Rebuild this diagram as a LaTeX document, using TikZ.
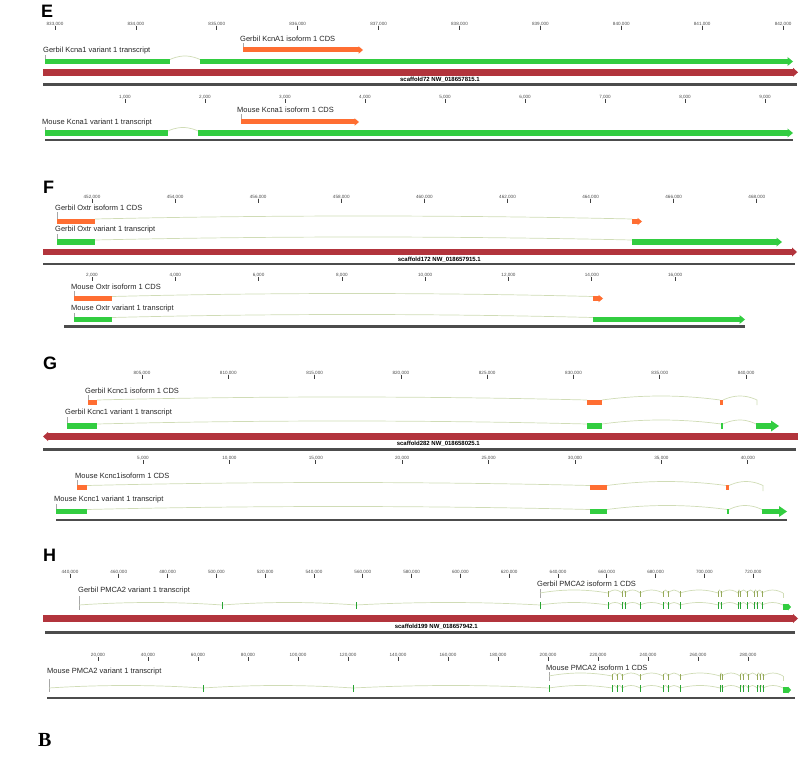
\documentclass[tikz,border=0pt]{standalone}
\usepackage{fontspec}
\setmainfont{Liberation Sans}
\newfontfamily\serifbold{Liberation Serif}
\usepackage{xcolor}
\usetikzlibrary{arrows.meta}
\definecolor{trgreen}{RGB}{50,205,64}
\definecolor{cdsorange}{RGB}{255,110,50}
\definecolor{scafred}{RGB}{178,52,60}
\definecolor{introngreen}{RGB}{208,220,182}
\definecolor{cdsmark}{RGB}{150,170,90}

\begin{document}
\begin{tikzpicture}[
    x=1pt, y=-1pt,
    panel/.style={font=\bfseries\fontsize{18}{18}\selectfont, anchor=west, inner sep=0pt},
    lbl/.style={font=\fontsize{7.5}{8}\selectfont, anchor=west, inner sep=0pt, text=black!85},
    tick/.style={font=\fontsize{4.6}{5}\selectfont, text=black!70, inner sep=0.3pt},
    tickmark/.style={draw=black!75, line width=0.7pt},
    scaf/.style={font=\bfseries\fontsize{6}{6}\selectfont, anchor=east, inner sep=0pt},
    startmark/.style={draw=black!35, line width=0.4pt},
    exon/.style={draw=trgreen, line width=5.5pt},
    cdsbox/.style={draw=cdsorange, line width=5pt},
    trarrow/.style={exon, -{Triangle[length=5.5pt, width=9pt, line width=0pt]}},
    bigtrarrow/.style={exon, -{Triangle[length=8pt, width=11pt, line width=0pt]}},
    cdsarrow/.style={cdsbox, -{Triangle[length=4.5pt, width=7.5pt, line width=0pt]}},
    contig/.style={draw=scafred, line width=6.5pt, -{Triangle[length=5pt, width=9pt, line width=0pt]}},
    axis/.style={draw=black!70, line width=2.2pt},
    intron/.style={draw=introngreen, line width=0.7pt},
    trmark/.style={draw=trgreen!80!black, line width=0.8pt},
    cdsmk/.style={draw=cdsmark, line width=0.8pt},
]
\useasboundingbox (0,0) rectangle (800,778);

\node[panel] (panelE) at (41,11) {E};
\foreach \i [evaluate=\i as \x using 55+80.9*\i, evaluate=\i as \k using int(833+\i)] in {0,...,9}{
  \node[tick] (tEg\i) at (\x,24) {\k,000};
  \draw[tickmark] (tEg\i.south) -- ++(0,3.5);
}
\node[lbl] (gKcna1cds) at (240,39) {Gerbil KcnA1 isoform 1 CDS};
\draw[startmark] (243,43) -- (243,50);
\draw[cdsarrow] (243,50) -- (363,50);
\node[lbl] (gKcna1tr) at (43,51) {Gerbil Kcna1 variant 1 transcript};
\draw[startmark] (45,55) -- (45,61.5);
\draw[exon] (45,61.5) -- (170,61.5);
\draw[intron] (170,59.5) parabola bend (185,56) (200,59.5);
\draw[trarrow] (200,61.5) -- (793,61.5);
\draw[contig] (43,72.3) -- (798,72.3);
\node[scaf] (scafE) at (480,80) {scaffold72 NW\_018657815.1};
\draw[axis] (43,84.5) -- (797,84.5);

\foreach \i [evaluate=\i as \x using 125+80*\i, evaluate=\i as \k using int(1+\i)] in {0,...,8}{
  \node[tick] (tEm\i) at (\x,97) {\k,000};
  \draw[tickmark] (tEm\i.south) -- ++(0,3.5);
}
\node[lbl] (mKcna1cds) at (237,110) {Mouse Kcna1 isoform 1 CDS};
\draw[startmark] (241,114) -- (241,122);
\draw[cdsarrow] (241,122) -- (359,122);
\node[lbl] (mKcna1tr) at (42,123) {Mouse Kcna1 variant 1 transcript};
\draw[startmark] (45,127) -- (45,133);
\draw[exon] (45,133) -- (168,133);
\draw[intron] (168,131) parabola bend (183,127.5) (198,131);
\draw[trarrow] (198,133) -- (793,133);
\draw[axis] (45,140) -- (793,140);

\node[panel] (panelF) at (43,187) {F};
\foreach \i [evaluate=\i as \x using 92+83.1*\i, evaluate=\i as \k using int(452+2*\i)] in {0,...,8}{
  \node[tick] (tFg\i) at (\x,197) {\k,000};
  \draw[tickmark] (tFg\i.south) -- ++(0,3.5);
}
\node[lbl] (gOxtrcds) at (55,208) {Gerbil Oxtr isoform 1 CDS};
\draw[startmark] (57,212) -- (57,221);
\draw[cdsbox] (57,221) -- (95,221);
\draw[intron] (95,219) parabola bend (363,216) (632,219);
\draw[cdsarrow] (632,221.5) -- (642,221.5);
\node[lbl] (gOxtrtr) at (55,230) {Gerbil Oxtr variant 1 transcript};
\draw[startmark] (57,234) -- (57,242);
\draw[exon] (57,242) -- (95,242);
\draw[intron] (95,240) parabola bend (363,237) (632,240);
\draw[trarrow] (632,242) -- (782,242);
\draw[contig] (43,252) -- (797,252);
\node[scaf] (scafF) at (481,260) {scaffold172 NW\_018657915.1};
\draw[axis] (43,264) -- (795,264);

\foreach \i [evaluate=\i as \x using 92+83.3*\i, evaluate=\i as \k using int(2+2*\i)] in {0,...,7}{
  \node[tick] (tFm\i) at (\x,275) {\k,000};
  \draw[tickmark] (tFm\i.south) -- ++(0,3.5);
}
\node[lbl] (mOxtrcds) at (71,287) {Mouse Oxtr isoform 1 CDS};
\draw[startmark] (74,291) -- (74,298.5);
\draw[cdsbox] (74,298.5) -- (112,298.5);
\draw[intron] (112,296.5) parabola bend (352,293.5) (593,296.5);
\draw[cdsarrow] (593,298.5) -- (603,298.5);
\node[lbl] (mOxtrtr) at (71,309) {Mouse Oxtr variant 1 transcript};
\draw[startmark] (74,313) -- (74,319.5);
\draw[exon] (74,319.5) -- (112,319.5);
\draw[intron] (112,317.5) parabola bend (352,314.5) (593,317.5);
\draw[trarrow] (593,319.5) -- (745,319.5);
\draw[axis] (64,326.5) -- (745,326.5);

\node[panel] (panelG) at (43,363) {G};
\foreach \i [evaluate=\i as \x using 142+86.3*\i, evaluate=\i as \k using int(805+5*\i)] in {0,...,7}{
  \node[tick] (tGg\i) at (\x,373) {\k,000};
  \draw[tickmark] (tGg\i.south) -- ++(0,3.5);
}
\node[lbl] (gKcnc1cds) at (85,391) {Gerbil Kcnc1 isoform 1 CDS};
\draw[startmark] (88,395) -- (88,402);
\draw[cdsbox] (88,402) -- (97,402);
\draw[intron] (97,400) parabola bend (342,397) (587,400);
\draw[cdsbox] (587,402) -- (602,402);
\draw[intron] (602,400) parabola bend (661,396) (720,400);
\draw[cdsbox] (720,402) -- (723,402);
\draw[intron] (723,400) parabola bend (740,396) (757,400) -- (757,405);
\node[lbl] (gKcnc1tr) at (65,413) {Gerbil Kcnc1 variant 1 transcript};
\draw[startmark] (67,417) -- (67,426);
\draw[exon] (67,426) -- (97,426);
\draw[intron] (97,424) parabola bend (342,421) (587,424);
\draw[exon] (587,426) -- (602,426);
\draw[intron] (602,424) parabola bend (661,420) (721,424);
\draw[exon] (721,426) -- (723,426);
\draw[intron] (723,424) parabola bend (740,420) (756,424);
\draw[bigtrarrow] (756,426) -- (779,426);
\draw[contig] (798,436.5) -- (43,436.5);
\node[scaf] (scafG) at (480,444) {scaffold282 NW\_018658025.1};
\draw[axis] (43,449.5) -- (796,449.5);

\foreach \i [evaluate=\i as \x using 143+86.4*\i, evaluate=\i as \k using int(5+5*\i)] in {0,...,7}{
  \node[tick] (tGm\i) at (\x,458) {\k,000};
  \draw[tickmark] (tGm\i.south) -- ++(0,3.5);
}
\node[lbl] (mKcnc1cds) at (75,476) {Mouse Kcnc1isoform 1 CDS};
\draw[startmark] (77,480) -- (77,487.5);
\draw[cdsbox] (77,487.5) -- (87,487.5);
\draw[intron] (87,485.5) parabola bend (338,482.5) (590,485.5);
\draw[cdsbox] (590,487.5) -- (607,487.5);
\draw[intron] (607,485.5) parabola bend (666,481.5) (726,485.5);
\draw[cdsbox] (726,487.5) -- (729,487.5);
\draw[intron] (729,485.5) parabola bend (746,481.5) (763,485.5) -- (763,491);
\node[lbl] (mKcnc1tr) at (54,500) {Mouse Kcnc1 variant 1 transcript};
\draw[startmark] (56,504) -- (56,511.5);
\draw[exon] (56,511.5) -- (87,511.5);
\draw[intron] (87,509.5) parabola bend (338,506.5) (590,509.5);
\draw[exon] (590,511.5) -- (607,511.5);
\draw[intron] (607,509.5) parabola bend (667,505.5) (727,509.5);
\draw[exon] (727,511.5) -- (729,511.5);
\draw[intron] (729,509.5) parabola bend (745,505.5) (762,509.5);
\draw[bigtrarrow] (762,511.5) -- (787,511.5);
\draw[axis] (56,520) -- (787,520);

\node[panel] (panelH) at (43,555) {H};
\foreach \i [evaluate=\i as \x using 70+48.8*\i, evaluate=\i as \k using int(440+20*\i)] in {0,...,14}{
  \node[tick] (tHg\i) at (\x,572) {\k,000};
  \draw[tickmark] (tHg\i.south) -- ++(0,3.5);
}
\node[lbl] (gPmca2tr) at (78,591) {Gerbil PMCA2 variant 1 transcript};
\node[lbl] (gPmca2cds) at (537,584) {Gerbil PMCA2 isoform 1 CDS};
\draw[startmark] (79,596) -- (79,610);
\foreach \b [remember=\b as \a (initially 79)] in {222,356,540,608,622,625,640,663,668,680,718,721,738,740,747,754,757,762,783}
  \draw[intron] (\a,605) parabola bend ({(\a+\b)/2},602.5) (\b,605);
\foreach \x in {222,356,540,608,622,625,640,663,668,680,718,721,738,740,747,754,757,762}
  \draw[trmark] (\x,602) -- (\x,609);
\draw[exon, line width=6pt, -{Triangle[length=3pt, width=7pt, line width=0pt]}] (783,607) -- (791,607);
\draw[startmark] (540,589) -- (540,598);
\foreach \b [remember=\b as \a (initially 540)] in {608,622,625,640,663,668,680,718,721,738,740,747,754,757,762,783}
  \draw[intron] (\a,593) parabola bend ({(\a+\b)/2},590) (\b,593);
\foreach \x in {608,622,625,640,663,668,680,718,721,738,740,747,754,757,762}
  \draw[cdsmk] (\x,591) -- (\x,597);
\draw[intron] (783,593) -- (783,598);
\draw[contig] (43,618.5) -- (798,618.5);
\node[scaf] (scafH) at (478,627) {scaffold199 NW\_018657942.1};
\draw[axis] (45,632.5) -- (795,632.5);

\foreach \i [evaluate=\i as \x using 98+50*\i, evaluate=\i as \k using int(20+20*\i)] in {0,...,13}{
  \node[tick] (tHm\i) at (\x,655) {\k,000};
  \draw[tickmark] (tHm\i.south) -- ++(0,3.5);
}
\node[lbl] (mPmca2tr) at (47,672) {Mouse PMCA2 variant 1 transcript};
\node[lbl] (mPmca2cds) at (546,668) {Mouse PMCA2 isoform 1 CDS};
\draw[startmark] (49,679) -- (49,692);
\foreach \b [remember=\b as \a (initially 49)] in {203,353,549,612,617,622,640,663,668,680,720,722,740,743,748,757,760,763,783}
  \draw[intron] (\a,688) parabola bend ({(\a+\b)/2},685.5) (\b,688);
\foreach \x in {203,353,549,612,617,622,640,663,668,680,720,722,740,743,748,757,760,763}
  \draw[trmark] (\x,685) -- (\x,692);
\draw[exon, line width=6pt, -{Triangle[length=3pt, width=7pt, line width=0pt]}] (783,690) -- (791,690);
\draw[startmark] (549,672) -- (549,681);
\foreach \b [remember=\b as \a (initially 549)] in {612,617,622,640,663,668,680,720,722,740,743,748,757,760,763,783}
  \draw[intron] (\a,676) parabola bend ({(\a+\b)/2},673) (\b,676);
\foreach \x in {612,617,622,640,663,668,680,720,722,740,743,748,757,760,763}
  \draw[cdsmk] (\x,674) -- (\x,680);
\draw[intron] (783,676) -- (783,681);
\draw[axis] (47,698) -- (795,698);

\node[font=\serifbold\bfseries\fontsize{20}{20}\selectfont, anchor=west, inner sep=0pt] (panelB) at (38,740) {B};
\end{tikzpicture}
\end{document}
